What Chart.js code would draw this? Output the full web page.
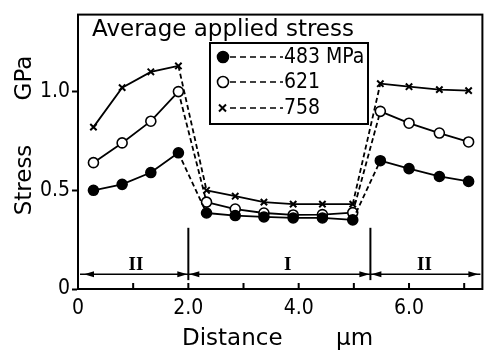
<!DOCTYPE html>
<html>
<head>
<meta charset="utf-8">
<script src="https://cdn.jsdelivr.net/npm/chart.js@4.4.0/dist/chart.umd.min.js"></script>
<style>
  html, body { margin: 0; padding: 0; background: #fff; }
</style>
</head>
<body>
<canvas id="stressChart" width="489" height="350"></canvas>
<script>
// measured stress along the distance through the specimen
const distance = [0.28, 0.80, 1.32, 1.82, 2.33, 2.85, 3.37, 3.90, 4.43, 4.98, 5.48, 6.00, 6.55, 7.08];
const stress483 = [0.50, 0.53, 0.59, 0.69, 0.385, 0.372, 0.365, 0.36, 0.36, 0.35, 0.65, 0.61, 0.57, 0.545];
const stress621 = [0.64, 0.74, 0.85, 1.00, 0.44, 0.405, 0.385, 0.375, 0.377, 0.387, 0.90, 0.84, 0.79, 0.745];
const stress758 = [0.82, 1.02, 1.10, 1.13, 0.50, 0.47, 0.44, 0.43, 0.43, 0.43, 1.04, 1.025, 1.01, 1.005];
const seriesLabels = ['483 MPa', '621', '758'];

const xTicks = [0, 1, 2, 3, 4, 5, 6, 7];
const xTickLabels = { 0: '0', 2: '2.0', 4: '4.0', 6: '6.0' };
const yTicks = [0, 0.5, 1.0];
const yTickLabels = { 0: '0', 0.5: '0.5', 1: '1.0' };

// region boundaries and names (II | I | II)
const regionBounds = [2.0, 5.3];
const regionNames = ['II', 'I', 'II'];
const regionNameX = [1.05, 3.8, 6.28];

const FONT = '"DejaVu Sans Condensed", "DejaVu Sans", sans-serif';

const toPoints = arr => arr.map((v, i) => ({ x: distance[i], y: v }));

// dashed where the line jumps across a region boundary
const crossesBound = i => regionBounds.some(b => distance[i] < b && distance[i + 1] > b);
const segmentStyle = {
  borderDash: ctx => crossesBound(ctx.p0DataIndex) ? [5, 3] : undefined
};

const base = {
  showLine: true,
  borderColor: '#000',
  borderWidth: 1.8,
  pointBorderColor: '#000',
  pointBorderWidth: 1.6,
  tension: 0,
  segment: segmentStyle
};

const datasets = [
  { ...base, label: seriesLabels[0], data: toPoints(stress483), pointStyle: 'circle', pointRadius: 5, pointBackgroundColor: '#000' },
  { ...base, label: seriesLabels[1], data: toPoints(stress621), pointStyle: 'circle', pointRadius: 5, pointBackgroundColor: '#fff' },
  { ...base, label: seriesLabels[2], data: toPoints(stress758), pointStyle: 'crossRot', pointRadius: 4.5, pointBorderWidth: 2, pointBackgroundColor: '#000' }
];

function arrowHead(ctx, x, y, dir) {
  ctx.beginPath();
  ctx.moveTo(x, y);
  ctx.lineTo(x - dir * 10, y - 3);
  ctx.lineTo(x - dir * 10, y + 3);
  ctx.closePath();
  ctx.fill();
}

const decorations = {
  id: 'decorations',
  afterDraw(chart) {
    const { ctx, chartArea: a, scales: { x, y } } = chart;
    ctx.save();
    ctx.strokeStyle = '#000';
    ctx.fillStyle = '#000';

    // frame
    ctx.lineWidth = 2;
    ctx.strokeRect(a.left, a.top, a.right - a.left, a.bottom - a.top);

    // inward ticks on the distance axis
    ctx.beginPath();
    xTicks.forEach(v => {
      const px = x.getPixelForValue(v);
      ctx.moveTo(px, a.bottom);
      ctx.lineTo(px, a.bottom - 6);
    });
    ctx.stroke();

    // region boundaries
    regionBounds.forEach(b => {
      const px = x.getPixelForValue(b);
      ctx.beginPath();
      ctx.moveTo(px, y.getPixelForValue(0.31));
      ctx.lineTo(px, y.getPixelForValue(0.045));
      ctx.stroke();
    });

    // arrowed span line
    const ay = y.getPixelForValue(0.075);
    ctx.lineWidth = 1.5;
    ctx.beginPath();
    ctx.moveTo(a.left + 2, ay);
    ctx.lineTo(a.right - 2, ay);
    ctx.stroke();
    arrowHead(ctx, a.left + 6, ay, -1);
    arrowHead(ctx, a.right - 4, ay, 1);
    regionBounds.forEach(b => {
      const px = x.getPixelForValue(b);
      arrowHead(ctx, px - 1, ay, 1);
      arrowHead(ctx, px + 1, ay, -1);
    });

    // region names
    ctx.font = 'bold 19px "Liberation Serif", serif';
    ctx.textAlign = 'center';
    ctx.textBaseline = 'middle';
    regionNames.forEach((n, i) => {
      ctx.fillText(n, x.getPixelForValue(regionNameX[i]), y.getPixelForValue(0.12));
    });

    // heading inside the plot
    ctx.textAlign = 'left';
    ctx.textBaseline = 'alphabetic';
    ctx.font = '23px "DejaVu Sans", sans-serif';
    ctx.fillText('Average applied stress', 92, 36);

    // legend box
    const lx = 210, ly = 43, lw = 158, lh = 81;
    ctx.fillStyle = '#fff';
    ctx.fillRect(lx, ly, lw, lh);
    ctx.fillStyle = '#000';
    ctx.lineWidth = 2;
    ctx.strokeRect(lx, ly, lw, lh);
    ctx.font = '21px ' + FONT;
    ctx.textBaseline = 'middle';
    const rows = [57, 82, 108];
    datasets.forEach((ds, i) => {
      const cy = rows[i];
      ctx.lineWidth = 1.6;
      ctx.setLineDash([6, 4]);
      ctx.beginPath();
      ctx.moveTo(230, cy);
      ctx.lineTo(283, cy);
      ctx.stroke();
      ctx.setLineDash([]);
      if (ds.pointStyle === 'crossRot') {
        ctx.lineWidth = 2;
        ctx.beginPath();
        ctx.moveTo(219, cy - 3.5); ctx.lineTo(226, cy + 3.5);
        ctx.moveTo(226, cy - 3.5); ctx.lineTo(219, cy + 3.5);
        ctx.stroke();
      } else {
        ctx.beginPath();
        ctx.arc(223, cy, 5.5, 0, Math.PI * 2);
        ctx.fillStyle = ds.pointBackgroundColor;
        ctx.fill();
        ctx.stroke();
        ctx.fillStyle = '#000';
      }
      ctx.fillText(ds.label, 284, cy + 1);
    });

    // axis titles
    ctx.font = '23px "DejaVu Sans", sans-serif';
    ctx.textBaseline = 'alphabetic';
    ctx.textAlign = 'left';
    ctx.fillText('Distance', 182, 345);
    ctx.fillText('\u03bcm', 336, 345);
    ctx.save();
    ctx.translate(31, 0);
    ctx.rotate(-Math.PI / 2);
    ctx.textAlign = 'center';
    ctx.fillText('Stress', -180, 0);
    ctx.fillText('GPa', -78, 0);
    ctx.restore();

    ctx.restore();
  }
};

new Chart(document.getElementById('stressChart'), {
  type: 'scatter',
  data: { datasets },
  options: {
    responsive: false,
    animation: false,
    devicePixelRatio: 1,
    layout: { padding: { top: 13, right: 3, left: 0, bottom: 0 } },
    plugins: { legend: { display: false }, tooltip: { enabled: false } },
    scales: {
      x: {
        type: 'linear',
        min: 0,
        max: 7.33,
        afterBuildTicks: s => { s.ticks = xTicks.map(v => ({ value: v })); },
        afterFit: s => { s.height = 61; },
        grid: { drawOnChartArea: false, drawTicks: false },
        border: { display: true, color: '#000', width: 2 },
        ticks: {
          color: '#000',
          padding: 7,
          maxRotation: 0,
          autoSkip: false,
          font: { family: FONT, size: 21 },
          callback: v => xTickLabels[v] || ''
        }
      },
      y: {
        min: 0,
        max: 1.39,
        afterBuildTicks: s => { s.ticks = yTicks.map(v => ({ value: v })); },
        afterFit: s => { s.width = 78; },
        grid: { drawOnChartArea: false, drawTicks: true, tickLength: 6, tickWidth: 2, tickColor: '#000' },
        border: { display: true, color: '#000', width: 2 },
        ticks: {
          color: '#000',
          padding: 2,
          font: { family: FONT, size: 21 },
          callback: v => yTickLabels[v] !== undefined ? yTickLabels[v] : ''
        }
      }
    }
  },
  plugins: [decorations]
});
</script>
</body>
</html>
